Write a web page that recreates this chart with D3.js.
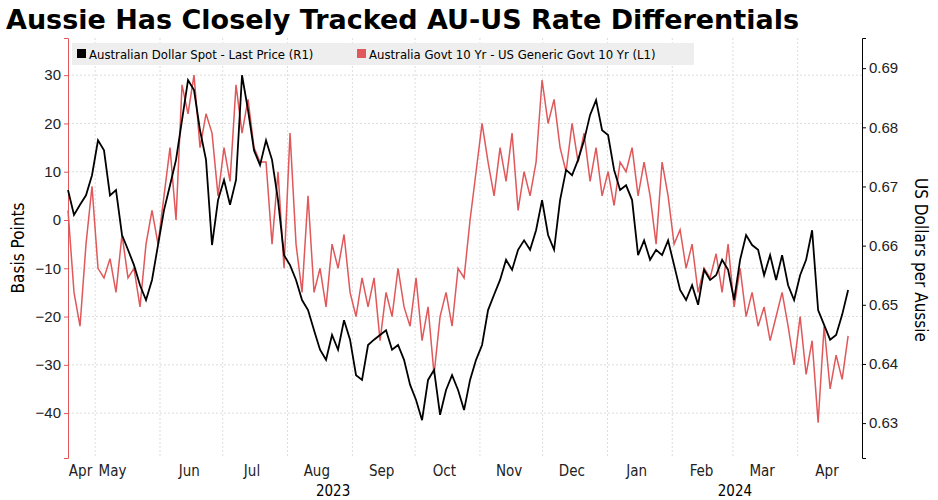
<!DOCTYPE html>
<html><head><meta charset="utf-8">
<script src="https://cdn.jsdelivr.net/npm/d3@7"></script>
<style>body{margin:0;background:#fff;font-family:"DejaVu Sans Condensed","DejaVu Sans",sans-serif}</style>
</head><body><svg id="c" width="938" height="500"></svg>
<script>
// AUD spot, roughly every 3 calendar days from 18 Apr 2023
var audValues = [669.4,665.2,666.9,668.5,671.9,677.8,676.1,668.5,669.4,661.8,659.3,656.7,653.3,650.8,654.2,660.1,666.0,670.2,674.5,681.2,688.0,686.3,679.5,674.5,660.1,667.7,671.1,666.9,671.1,688.8,682.9,676.1,673.6,677.8,674.5,667.7,658.4,656.7,654.2,650.8,649.1,645.7,642.4,640.7,644.9,642.4,647.4,644.1,638.1,637.3,643.2,644.1,644.9,645.7,642.4,643.2,640.7,636.5,633.9,630.5,637.3,639.0,631.4,635.6,638.1,635.6,632.2,637.3,640.7,643.2,649.1,651.7,654.2,657.6,655.9,659.3,660.9,659.3,662.6,667.7,661.8,659.3,667.7,672.8,671.9,674.5,677.8,682.1,684.6,679.5,678.7,672.8,669.4,670.2,667.7,658.4,660.9,657.6,659.3,658.4,660.9,656.7,652.5,650.8,653.3,650.0,655.9,654.2,655.0,657.6,655.9,650.8,657.6,661.8,660.1,659.3,655.0,658.4,654.2,658.4,653.3,650.8,655.0,657.6,662.6,649.1,646.6,644.1,644.9,648.3,652.5];
// AU 10y - US 10y spread, basis points
var spreadValues = [2,-15,-22,-5,7,-10,-12,-8,-15,-3,-12,-10,-18,-5,2,-5,5,15,0,28,22,30,15,22,18,5,15,8,28,18,25,15,12,12,-5,10,-10,18,-5,-15,5,-15,-10,-18,-5,-10,-3,-15,-20,-12,-18,-12,-25,-15,-20,-10,-18,-22,-12,-25,-18,-32,-20,-15,-22,-10,-12,0,10,20,12,5,15,8,18,2,10,5,12,29,20,25,15,10,20,12,18,8,15,5,10,3,12,10,15,5,12,5,-5,12,5,-5,-2,-10,-5,-15,-10,-12,-7,-15,-5,-18,-10,-20,-15,-22,-18,-25,-20,-15,-22,-30,-20,-32,-25,-42,-22,-35,-28,-33,-24];
var leftTicks = [30,20,10,0,-10,-20,-30,-40];
var rightTicks = [0.69,0.68,0.67,0.66,0.65,0.64,0.63];
var monthLabels = ["Apr","May","Jun","Jul","Aug","Sep","Oct","Nov","Dec","Jan","Feb","Mar","Apr"];

var start = new Date(2023,3,18), stepDays = 2.87;
var dates = audValues.map(function(d,i){return new Date(+start + i*stepDays*864e5);});
var svg = d3.select("#c");
var L = 68, R = 862, T = 38, B = 458;
var x = d3.scaleTime().domain([start, new Date(2024,3,26)]).range([L, 850]);
var yL = d3.scaleLinear().domain([-49.3, 37.7]).range([B, T]);
var yR = d3.scaleLinear().domain([0.6241, 0.6951]).range([B, T]);
var red = "#e0585a";

svg.append("text").attr("x",6).attr("y",29).attr("font-size",27).attr("font-weight","bold")
  .attr("font-family","DejaVu Sans, sans-serif").text("Aussie Has Closely Tracked AU-US Rate Differentials");

// gridlines
var monthStarts = d3.timeMonth.range(new Date(2023,4,1), new Date(2024,4,1));
svg.selectAll(".vg").data(monthStarts).join("line").attr("x1",d=>x(d)).attr("x2",d=>x(d))
  .attr("y1",T).attr("y2",B).attr("stroke","#ddd").attr("stroke-dasharray","2,2");
svg.selectAll(".hg").data(leftTicks).join("line").attr("x1",L).attr("x2",R)
  .attr("y1",d=>yL(d)).attr("y2",d=>yL(d)).attr("stroke","#ddd").attr("stroke-dasharray","2,2");

// axes
var gl = svg.append("g").attr("transform","translate("+L+",0)")
  .call(d3.axisLeft(yL).tickValues(leftTicks).tickSize(4));
gl.select(".domain").attr("stroke", red);
gl.selectAll(".tick line").attr("stroke", red);
gl.selectAll("text").attr("font-size",15).attr("fill","#222");
var gr = svg.append("g").attr("transform","translate("+R+",0)")
  .call(d3.axisRight(yR).tickValues(rightTicks).tickFormat(d3.format(".2f")).tickSize(4));
gr.selectAll("text").attr("font-size",15).attr("fill","#222");

var months = [new Date(2023,3,24)].concat(d3.timeMonth.range(new Date(2023,4,1), new Date(2024,4,1)).map(d=>new Date(d.getFullYear(),d.getMonth(),15)));
months = months.slice(0, monthLabels.length);
svg.selectAll(".ml").data(months).join("text").attr("x",(d,i)=>i===1?x(d)-12:x(d)).attr("y",476)
  .attr("text-anchor","middle").attr("font-size",15).attr("fill","#222").text((d,i)=>monthLabels[i]);
svg.append("text").attr("x",x(new Date(2023,9,1))-82).attr("y",496).attr("text-anchor","middle").attr("font-size",15).text("2023");
svg.append("text").attr("x",x(new Date(2024,2,1))+2).attr("y",496).attr("text-anchor","middle").attr("font-size",15).text("2024");

svg.append("text").attr("transform","translate(24,248) rotate(-90)").attr("text-anchor","middle").attr("font-size",17).text("Basis Points");
svg.append("text").attr("transform","translate(915,260) rotate(90)").attr("text-anchor","middle").attr("font-size",17).text("US Dollars per Aussie");

// lines
svg.append("path").datum(spreadValues).attr("fill","none").attr("stroke",red).attr("stroke-width",1.5)
  .attr("d", d3.line().x((d,i)=>x(dates[i])).y(d=>yL(d)));
svg.append("path").datum(audValues).attr("fill","none").attr("stroke","#000").attr("stroke-width",1.8)
  .attr("d", d3.line().x((d,i)=>x(dates[i])).y(d=>yR(d/1000)));

// legend
svg.append("rect").attr("x",72).attr("y",43).attr("width",622).attr("height",22).attr("fill","#eee");
svg.append("rect").attr("x",77).attr("y",49).attr("width",9).attr("height",9).attr("fill","#000");
svg.append("text").attr("x",89).attr("y",59).attr("font-size",13).text("Australian Dollar Spot - Last Price (R1)");
svg.append("rect").attr("x",357).attr("y",49).attr("width",9).attr("height",9).attr("fill",red);
svg.append("text").attr("x",369).attr("y",59).attr("font-size",13).text("Australia Govt 10 Yr - US Generic Govt 10 Yr (L1)");
</script></body></html>
